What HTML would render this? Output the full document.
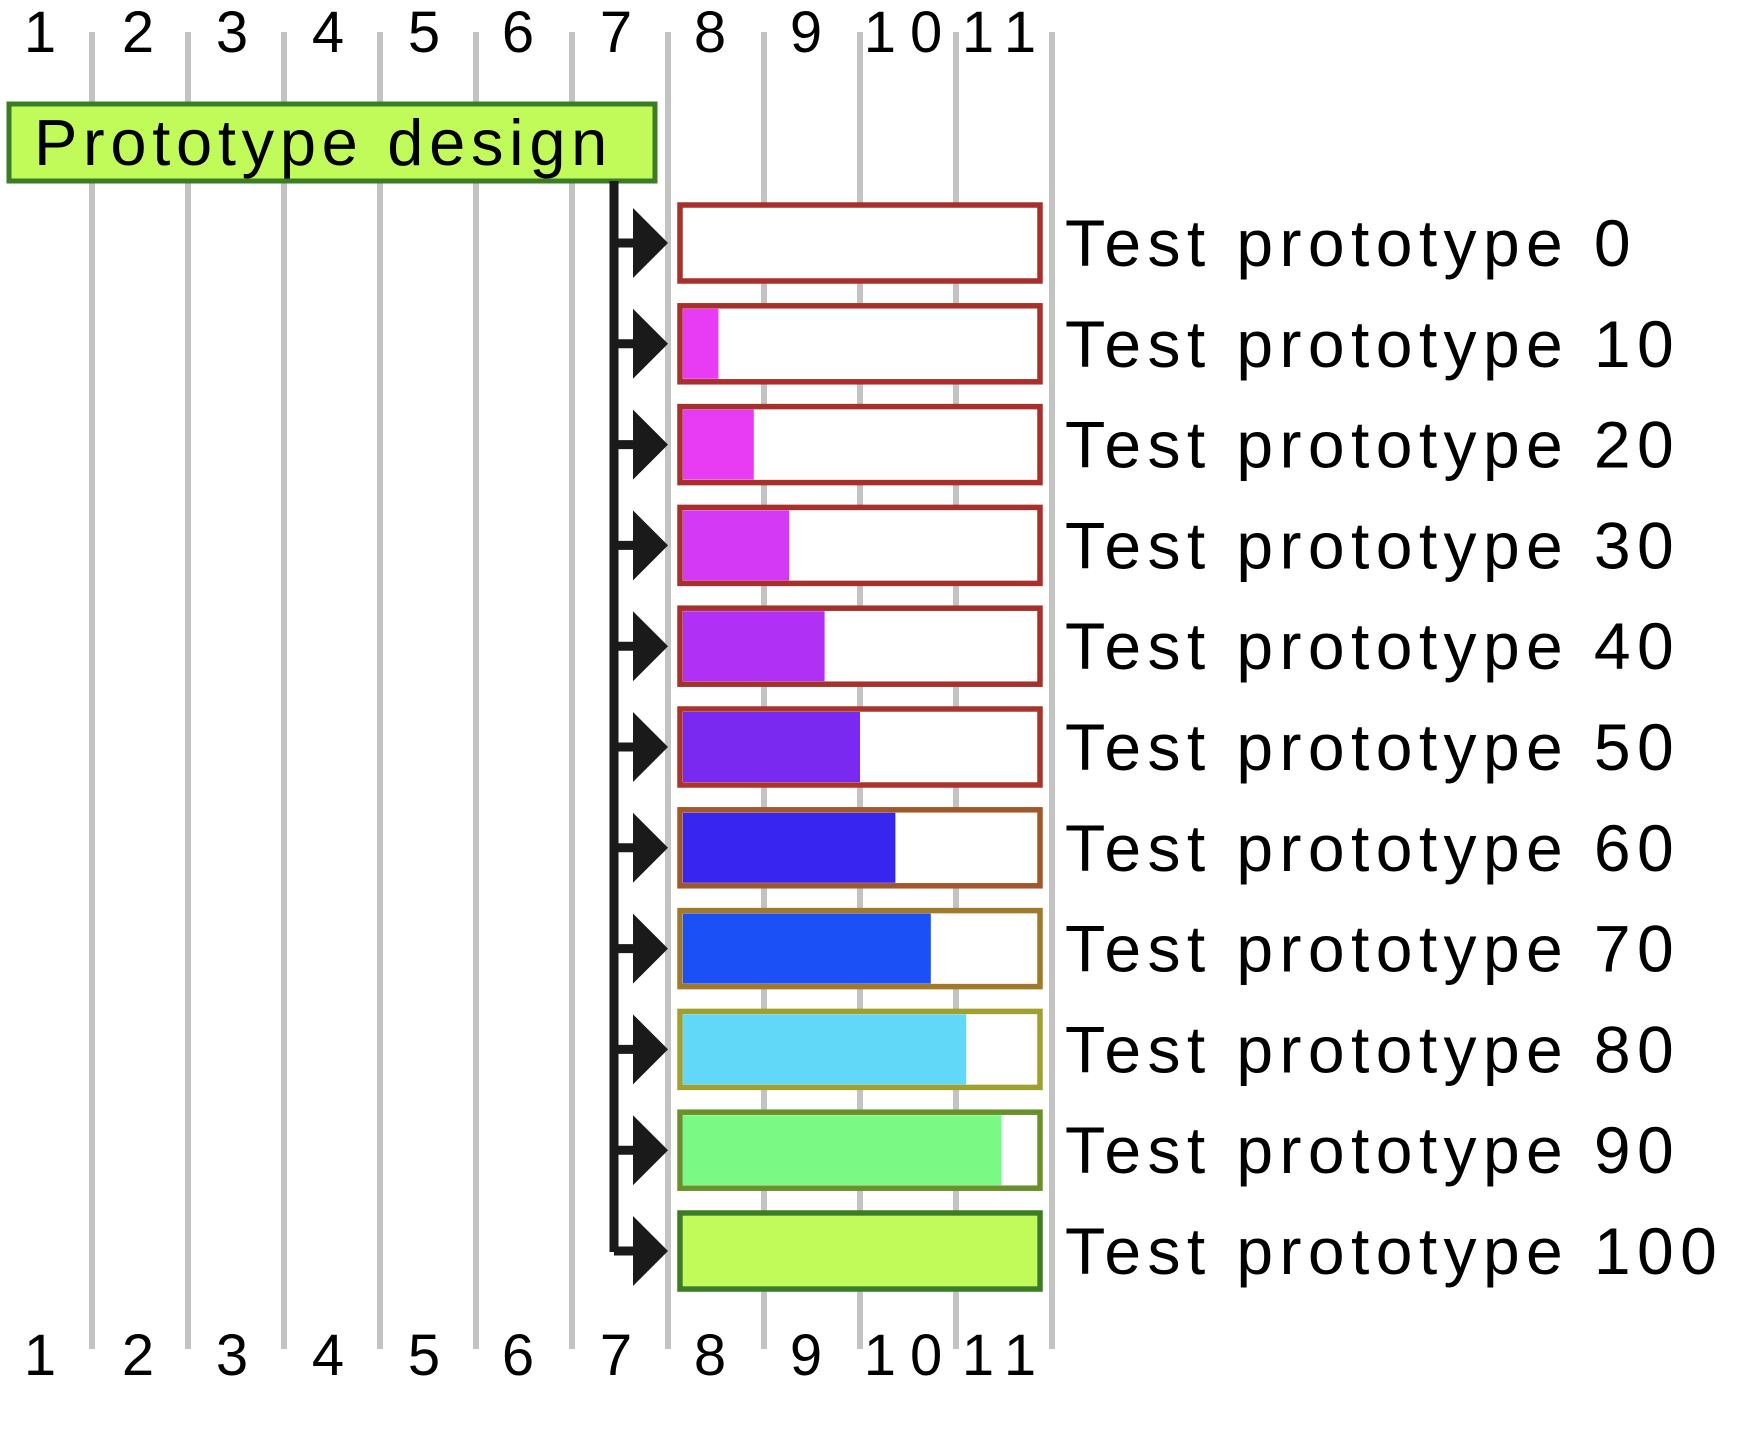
<!DOCTYPE html>
<html><head><meta charset="utf-8"><style>
html,body{margin:0;padding:0;background:#fff;}
svg{display:block;}
text{font-family:"Liberation Sans",sans-serif;fill:#000;}
</style></head><body>
<svg width="1748" height="1452" viewBox="0 0 1748 1452" xmlns="http://www.w3.org/2000/svg">
<g stroke="#c3c3c3" stroke-width="6">
<line x1="92" y1="32" x2="92" y2="1349"/>
<line x1="188" y1="32" x2="188" y2="1349"/>
<line x1="284" y1="32" x2="284" y2="1349"/>
<line x1="380" y1="32" x2="380" y2="1349"/>
<line x1="476" y1="32" x2="476" y2="1349"/>
<line x1="572" y1="32" x2="572" y2="1349"/>
<line x1="668" y1="32" x2="668" y2="1349"/>
<line x1="764" y1="32" x2="764" y2="1349"/>
<line x1="860" y1="32" x2="860" y2="1349"/>
<line x1="956" y1="32" x2="956" y2="1349"/>
<line x1="1052" y1="32" x2="1052" y2="1349"/>
</g>
<g font-size="58" text-anchor="middle" letter-spacing="4">
<text x="42" y="52">1</text><text x="140" y="52">2</text><text x="234" y="52">3</text><text x="330" y="52">4</text><text x="426" y="52">5</text><text x="520" y="52">6</text><text x="618" y="52">7</text><text x="712" y="52">8</text><text x="808" y="52">9</text><text x="910" y="52" letter-spacing="14">10</text><text x="1006" y="52" letter-spacing="14">11</text>
<text x="42" y="1375">1</text><text x="140" y="1375">2</text><text x="234" y="1375">3</text><text x="330" y="1375">4</text><text x="426" y="1375">5</text><text x="520" y="1375">6</text><text x="618" y="1375">7</text><text x="712" y="1375">8</text><text x="808" y="1375">9</text><text x="910" y="1375" letter-spacing="14">10</text><text x="1006" y="1375" letter-spacing="14">11</text>
</g>
<rect x="9" y="104" width="646" height="77" fill="#c0fb5a" stroke="#3a7d22" stroke-width="5"/>
<text x="34" y="165" font-size="65" letter-spacing="5.7">Prototype design</text>
<line x1="614" y1="181" x2="614" y2="1252" stroke="#1a1a1a" stroke-width="9"/>
<g id="rows"></g>
<script>
(function(){
var fills=["#ffffff","#e83cf4","#e83cf4","#d43af5","#b030f5","#7a2af0","#3826f0","#1a50f5","#62d8f8","#7afa84","#c0fb5a"];
var borders=["#a8302c","#a8302c","#a8302c","#a8302c","#a8302c","#a8342c","#a0582a","#a07a2a","#a0a030","#6a902a","#3a7d22"];
var ns="http://www.w3.org/2000/svg",g=document.getElementById("rows");
function el(t,a){var e=document.createElementNS(ns,t);for(var k in a)e.setAttribute(k,a[k]);g.appendChild(e);return e;}
for(var i=0;i<=10;i++){
 var c=243+100.8*i;
 el("line",{x1:614,y1:c,x2:636,y2:c,stroke:"#1a1a1a","stroke-width":9});
 el("polygon",{points:"633,"+(c-35)+" 668,"+c+" 633,"+(c+35),fill:"#1a1a1a"});
 el("rect",{x:680,y:c-38,width:360,height:76,fill:"#fff",stroke:borders[i],"stroke-width":5.5});
 if(i>0) el("rect",{x:683,y:c-35,width:354*i/10,height:70,fill:fills[i]});
 var t=el("text",{x:1065,y:c+23,"font-size":66,"letter-spacing":6.4});
 t.textContent="Test prototype "+(i*10);
}
})();
</script>
</svg>
</body></html>
